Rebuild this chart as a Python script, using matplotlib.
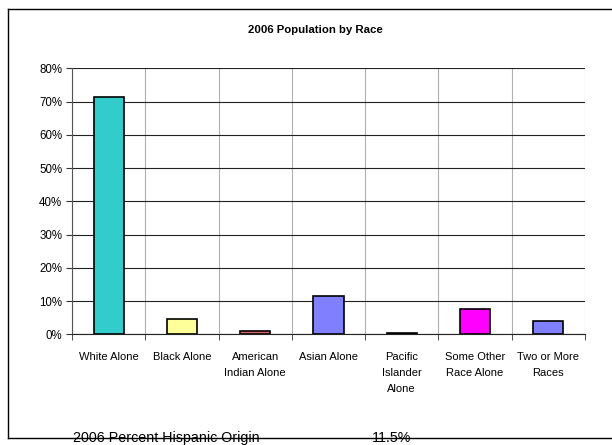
import matplotlib
matplotlib.use("Agg")
import matplotlib.pyplot as plt
from matplotlib.ticker import FuncFormatter, FixedLocator
from matplotlib.lines import Line2D

categories = ["White Alone", "Black Alone", "American\nIndian Alone", "Asian Alone",
              "Pacific\nIslander\nAlone", "Some Other\nRace Alone", "Two or More\nRaces"]
values = [71.5, 4.5, 1.0, 11.4, 0.5, 7.5, 4.1]
colors = ["#33CCCC", "#FFFF99", "#E06666", "#8080FF", "#000080", "#FF00FF", "#8080FF"]
hispanic_label = "2006 Percent Hispanic Origin"
hispanic_value = "11.5%"

narrow = ["Liberation Sans Narrow", "Liberation Sans", "DejaVu Sans"]

fig = plt.figure(figsize=(6.12, 4.45), dpi=100)
ax = fig.add_axes([0.1176, 0.2488, 0.8383, 0.5977])

x = list(range(len(categories)))
ax.bar(x, values, width=0.41, color=colors, edgecolor="black", linewidth=1.2, zorder=3)

ax.set_xlim(-0.5, len(categories) - 0.5)
ax.set_ylim(0, 80)
ax.set_yticks(range(0, 81, 10))
ax.yaxis.set_major_formatter(FuncFormatter(lambda v, p: "%d%%" % v))

ax.set_xticks(x)
ax.set_xticklabels(categories, fontsize=8, family=narrow, linespacing=1.75, va="top")
ax.xaxis.set_minor_locator(FixedLocator([i - 0.5 for i in range(len(categories) + 1)]))
ax.tick_params(axis="x", which="major", length=0, pad=13)
ax.tick_params(axis="x", which="minor", length=4, color="#333333")
ax.tick_params(axis="y", length=4, color="#333333", labelsize=8.3, pad=3)
for lab in ax.get_yticklabels():
    lab.set_family(narrow)

ax.grid(axis="y", which="major", color="#222222", linewidth=0.8, zorder=1)
ax.grid(axis="x", which="minor", color="#b0b0b0", linewidth=0.8, zorder=1)
ax.grid(axis="x", which="major", visible=False)

for s in ["top", "right"]:
    ax.spines[s].set_visible(False)
ax.spines["left"].set_color("#555555")
ax.spines["bottom"].set_color("#222222")

fig.text(0.515, 0.933, "2006 Population by Race", ha="center", va="center",
         fontsize=8.2, fontweight="bold", family=narrow)

# outer frame
fig.add_artist(Line2D([8 / 612, 8 / 612], [1 - 9 / 445, 1 - 437.7 / 445], color="black", lw=1))
fig.add_artist(Line2D([8 / 612, 1], [1 - 9 / 445, 1 - 9 / 445], color="black", lw=1))

fig.text(73 / 612, (445 - 441.7) / 445, hispanic_label, ha="left", va="baseline", fontsize=10.3,
         family=["Liberation Sans", "DejaVu Sans"])
fig.text(372 / 612, (445 - 441.7) / 445, hispanic_value, ha="left", va="baseline", fontsize=10.3,
         family=["Liberation Sans", "DejaVu Sans"])
fig.add_artist(Line2D([8 / 612, 1], [1 - 437.7 / 445, 1 - 437.7 / 445], color="black", lw=1))

fig.savefig("out.png", dpi=100)
